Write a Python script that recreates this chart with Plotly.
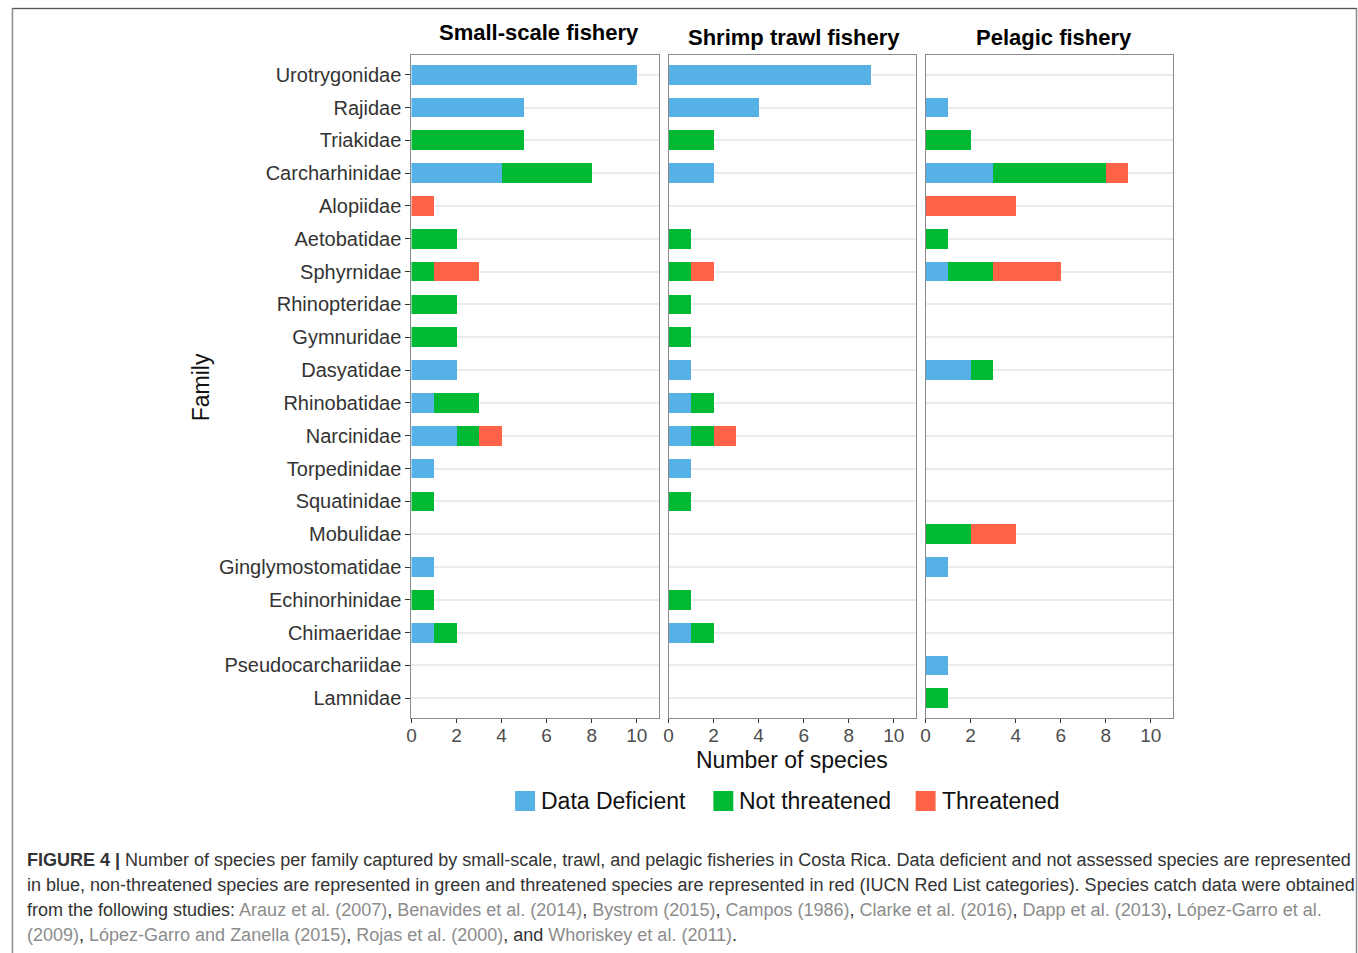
import plotly.graph_objects as go

W, H = 1358, 953

families = [
    "Urotrygonidae", "Rajidae", "Triakidae", "Carcharhinidae", "Alopiidae",
    "Aetobatidae", "Sphyrnidae", "Rhinopteridae", "Gymnuridae", "Dasyatidae",
    "Rhinobatidae", "Narcinidae", "Torpedinidae", "Squatinidae", "Mobulidae",
    "Ginglymostomatidae", "Echinorhinidae", "Chimaeridae", "Pseudocarchariidae",
    "Lamnidae",
]

fisheries = ["Small-scale fishery", "Shrimp trawl fishery", "Pelagic fishery"]
status_names = ["Data Deficient", "Not threatened", "Threatened"]
status_colors = ["#56B1E6", "#00B934", "#FF6347"]

# species counts per family (same order as `families`)
small_dd = [10, 5, 0, 4, 0, 0, 0, 0, 0, 2, 1, 2, 1, 0, 0, 1, 0, 1, 0, 0]
small_nt = [0, 0, 5, 4, 0, 2, 1, 2, 2, 0, 2, 1, 0, 1, 0, 0, 1, 1, 0, 0]
small_th = [0, 0, 0, 0, 1, 0, 2, 0, 0, 0, 0, 1, 0, 0, 0, 0, 0, 0, 0, 0]

trawl_dd = [9, 4, 0, 2, 0, 0, 0, 0, 0, 1, 1, 1, 1, 0, 0, 0, 0, 1, 0, 0]
trawl_nt = [0, 0, 2, 0, 0, 1, 1, 1, 1, 0, 1, 1, 0, 1, 0, 0, 1, 1, 0, 0]
trawl_th = [0, 0, 0, 0, 0, 0, 1, 0, 0, 0, 0, 1, 0, 0, 0, 0, 0, 0, 0, 0]

pelagic_dd = [0, 1, 0, 3, 0, 0, 1, 0, 0, 2, 0, 0, 0, 0, 0, 1, 0, 0, 1, 0]
pelagic_nt = [0, 0, 2, 5, 0, 1, 2, 0, 0, 1, 0, 0, 0, 0, 2, 0, 0, 0, 0, 1]
pelagic_th = [0, 0, 0, 1, 4, 0, 3, 0, 0, 0, 0, 0, 0, 0, 2, 0, 0, 0, 0, 0]

x_ticks = [0, 2, 4, 6, 8, 10]

panels = [
    (small_dd, small_nt, small_th),
    (trawl_dd, trawl_nt, trawl_th),
    (pelagic_dd, pelagic_nt, pelagic_th),
]

FONT = "Liberation Sans, Arial, Helvetica, sans-serif"

def px_x(p):
    return p / W

def px_y(p):
    return 1 - p / H

panel_px = [(408, 656), (666, 914), (924, 1172)]
top_px, bottom_px = 55, 718

fig = go.Figure()

for i, series in enumerate(panels):
    sfx = "" if i == 0 else str(i + 1)
    for vals, name, col in zip(series, status_names, status_colors):
        fig.add_trace(go.Bar(
            y=families,
            x=[v if v > 0 else None for v in vals],
            orientation="h",
            name=name,
            marker=dict(color=col, line=dict(width=0)),
            width=0.6,
            xaxis="x" + sfx,
            yaxis="y" + sfx,
            showlegend=False,
            hovertemplate="%{y}: %{x}<extra>" + name + "</extra>",
        ))

layout = dict(
    width=W, height=H,
    margin=dict(l=0, r=0, t=0, b=0),
    paper_bgcolor="white",
    plot_bgcolor="white",
    barmode="stack",
    font=dict(family=FONT, color="#333333"),
)

for i, (x0, x1) in enumerate(panel_px):
    sfx = "" if i == 0 else str(i + 1)
    layout["xaxis" + sfx] = dict(
        domain=[px_x(x0), px_x(x1)],
        anchor="y" + sfx,
        range=[0, 10.97],
        tickvals=x_ticks,
        ticks="outside", ticklen=4, tickwidth=1.3, tickcolor="#333333",
        ticklabelstandoff=-4,
        tickfont=dict(size=19, color="#4D4D4D", family=FONT),
        showgrid=False, zeroline=False,
        showline=True, mirror=True, linecolor="#8A8A8A", linewidth=1.4,
        fixedrange=True,
    )
    layout["yaxis" + sfx] = dict(
        domain=[px_y(bottom_px), px_y(top_px)],
        anchor="x" + sfx,
        type="category",
        categoryorder="array", categoryarray=families,
        range=[len(families) - 0.4, -0.6],
        showgrid=True, gridcolor="#EBEBEB", gridwidth=1.6,
        zeroline=False,
        showline=True, mirror=True, linecolor="#8A8A8A", linewidth=1.4,
        ticks="outside" if i == 0 else "",
        ticklen=5, tickwidth=1.3, tickcolor="#333333",
        showticklabels=(i == 0),
        tickfont=dict(size=20, color="#333333", family=FONT),
        fixedrange=True,
    )

fig.update_layout(**layout)

annotations = []

# facet strip titles
strip_pos = [(536, 33), (792, 37), (1053, 37)]
for title, (cx, cy) in zip(fisheries, strip_pos):
    annotations.append(dict(
        x=px_x(cx), y=px_y(cy), xref="paper", yref="paper",
        text="<b>" + title + "</b>", showarrow=False,
        xanchor="center", yanchor="middle",
        font=dict(size=22, color="#000000", family=FONT),
    ))

# axis titles
annotations.append(dict(
    x=px_x(790), y=px_y(760), xref="paper", yref="paper",
    text="Number of species", showarrow=False,
    xanchor="center", yanchor="middle",
    font=dict(size=23, color="#111111", family=FONT),
))
annotations.append(dict(
    x=px_x(197), y=px_y(387), xref="paper", yref="paper",
    text="Family", showarrow=False, textangle=-90,
    xanchor="center", yanchor="middle",
    font=dict(size=23, color="#111111", family=FONT),
))

# legend keys
shapes = []
legend_x = [512, 711, 914]
for name, col, lx in zip(status_names, status_colors, legend_x):
    shapes.append(dict(
        type="rect", xref="paper", yref="paper",
        x0=px_x(lx), x1=px_x(lx + 20), y0=px_y(811), y1=px_y(791),
        fillcolor=col, line=dict(width=0),
    ))
    annotations.append(dict(
        x=px_x(lx + 24), y=px_y(801), xref="paper", yref="paper",
        text=name, showarrow=False, xanchor="left", yanchor="middle",
        font=dict(size=23, color="#111111", family=FONT),
    ))

# outer frame
shapes.append(dict(
    type="rect", xref="paper", yref="paper",
    x0=px_x(7.5), x1=px_x(1356.5), y0=-0.05, y1=px_y(8.5),
    line=dict(color="#8C8C8C", width=1.5), fillcolor="rgba(0,0,0,0)",
))
shapes.append(dict(
    type="line", xref="paper", yref="paper",
    x0=px_x(7.5), x1=px_x(1356.5), y0=px_y(8.5), y1=px_y(8.5),
    line=dict(color="#555555", width=1.2),
))

# caption
def g(t):
    return '<span style="color:#8C8C8C">' + t + "</span>"

caption_lines = [
    "<b>FIGURE 4 |</b> Number of species per family captured by small-scale, trawl, and pelagic "
    "fisheries in Costa Rica. Data deficient and not assessed species are represented",
    "in blue, non-threatened species are represented in green and threatened species are "
    "represented in red (IUCN Red List categories). Species catch data were obtained",
    "from the following studies: " + g("Arauz et al. (2007)") + ", " + g("Benavides et al. (2014)")
    + ", " + g("Bystrom (2015)") + ", " + g("Campos (1986)") + ", " + g("Clarke et al. (2016)")
    + ", " + g("Dapp et al. (2013)") + ", " + g("López-Garro et al."),
    g("(2009)") + ", " + g("López-Garro and Zanella (2015)") + ", " + g("Rojas et al. (2000)")
    + ", and " + g("Whoriskey et al. (2011)") + ".",
]
for line, cy in zip(caption_lines, [860, 885, 910, 935]):
    annotations.append(dict(
        x=px_x(20), y=px_y(cy), xref="paper", yref="paper",
        text=line, showarrow=False, xanchor="left", yanchor="middle",
        align="left",
        font=dict(size=18, color="#333333", family=FONT),
    ))

fig.update_layout(annotations=annotations, shapes=shapes)

fig.write_html("out.html")
